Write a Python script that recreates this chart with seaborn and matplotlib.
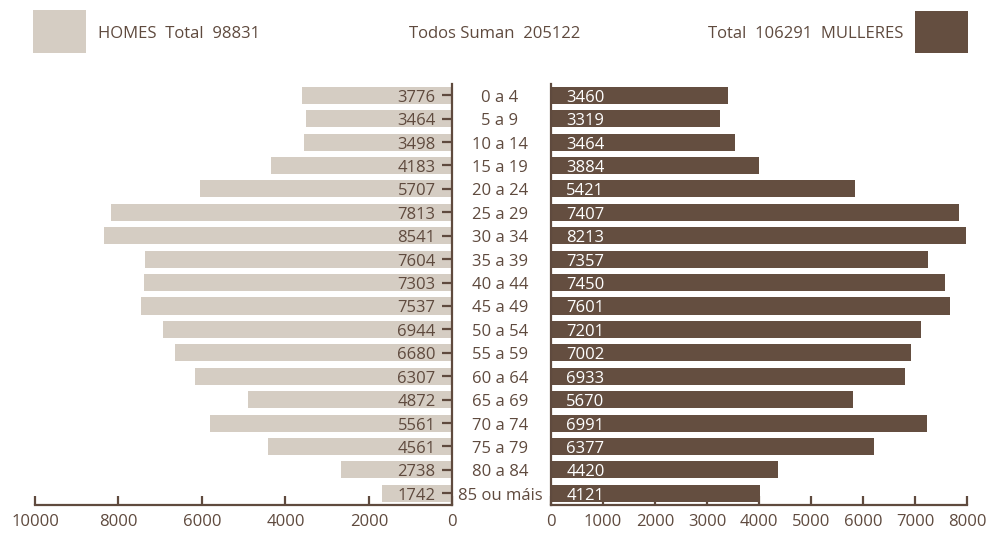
import matplotlib
matplotlib.use("Agg")
import matplotlib.pyplot as plt
import matplotlib.transforms as mtransforms
from matplotlib.patches import Rectangle
import seaborn as sns
import pandas as pd

# ---- data ----
ages = ["0 a 4", "5 a 9", "10 a 14", "15 a 19", "20 a 24", "25 a 29", "30 a 34",
        "35 a 39", "40 a 44", "45 a 49", "50 a 54", "55 a 59", "60 a 64",
        "65 a 69", "70 a 74", "75 a 79", "80 a 84", "85 ou máis"]
male_bar = [3590, 3500, 3545, 4340, 6040, 8180, 8345, 7360, 7385, 7455,
            6930, 6640, 6160, 4890, 5800, 4410, 2660, 1675]
female_bar = [3400, 3255, 3535, 4000, 5845, 7840, 7980, 7255, 7580, 7675,
              7120, 6925, 6805, 5815, 7235, 6215, 4365, 4020]
male_labels = [3776, 3464, 3498, 4183, 5707, 7813, 8541, 7604, 7303, 7537,
               6944, 6680, 6307, 4872, 5561, 4561, 2738, 1742]
female_labels = [3460, 3319, 3464, 3884, 5421, 7407, 8213, 7357, 7450, 7601,
                 7201, 7002, 6933, 5670, 6991, 6377, 4420, 4121]
header_left = "HOMES  Total  98831"
header_mid = "Todos Suman  205122"
header_right = "Total  106291  MULLERES"
left_ticks = [10000, 8000, 6000, 4000, 2000, 0]
right_ticks = [0, 1000, 2000, 3000, 4000, 5000, 6000, 7000, 8000]

# ---- style ----
LIGHT = "#d5cdc3"
DARK = "#644e40"
TXT = "#5f4a3e"

sns.set_style("ticks")
plt.rcParams["font.family"] = ["Open Sans", "DejaVu Sans"]
plt.rcParams["font.size"] = 12
plt.rcParams["ytick.left"] = False
plt.rcParams["ytick.right"] = True
plt.rcParams["ytick.direction"] = "in"
plt.rcParams["ytick.major.size"] = 7.2
plt.rcParams["ytick.major.width"] = 1.6
plt.rcParams["ytick.color"] = TXT

df = pd.DataFrame({"age": ages, "male": male_bar, "female": female_bar})

W, H = 994, 535
fig = plt.figure(figsize=(W / 100, H / 100), dpi=100)

def fx(px):
    return px / W

def fy(py):
    return (H - py) / H

ax_top, ax_bot = 84, 505
axL = fig.add_axes([fx(35), fy(ax_bot), fx(452.3) - fx(35), fy(ax_top) - fy(ax_bot)])
axR = fig.add_axes([fx(551), fy(ax_bot), fx(967) - fx(551), fy(ax_top) - fy(ax_bot)])

sns.barplot(data=df, y="age", x="male", orient="h", color=LIGHT, width=0.73,
            linewidth=0, saturation=1, ax=axL, zorder=1)
sns.barplot(data=df, y="age", x="female", orient="h", color=DARK, width=0.73,
            linewidth=0, saturation=1, ax=axR, zorder=1)

n = len(ages)
for ax in (axL, axR):
    ax.set_ylim(n - 0.5, -0.48)
    ax.set_xlabel("")
    ax.set_ylabel("")
    ax.set_facecolor("none")
    for s in ax.spines.values():
        s.set_color(TXT)
        s.set_linewidth(1.6)
    ax.spines["top"].set_visible(False)
    ax.tick_params(axis="x", bottom=True, top=False, direction="in", length=6.5,
                   width=1.6, color=TXT, labelcolor=TXT, labelsize=12, pad=6.5)

# left axis (men)
axL.set_xlim(10000, 0)
axL.set_xticks(left_ticks)
axL.set_xticklabels([str(t) for t in left_ticks])
axL.spines["left"].set_visible(False)
axL.set_yticks(range(n))
axL.set_yticklabels([""] * n)
axL.tick_params(axis="y", which="major", left=False, right=True, labelleft=False,
                labelright=False, direction="in", length=7.2, width=1.6,
                color=TXT)
for t in axL.yaxis.get_major_ticks():
    t.tick1line.set_visible(False)
    t.tick2line.set_visible(True)
    t.tick2line.set_markersize(7.2)
    t.tick2line.set_markeredgewidth(1.6)
    t.tick2line.set_color(TXT)
    t.tick2line.set_zorder(5)
axL.yaxis.set_zorder(5)

DY = -1.8  # points: small downward shift so text sits centred on bars
for i, v in enumerate(male_labels):
    axL.annotate(str(v), xy=(0, i), xycoords="data", xytext=(-12, DY),
                 textcoords="offset points", ha="right", va="center",
                 color=TXT, fontsize=12)

# right axis (women)
axR.set_xlim(0, 8000)
axR.set_xticks(right_ticks)
axR.set_xticklabels([str(t) for t in right_ticks])
axR.spines["right"].set_visible(False)
axR.set_yticks([])
for i, v in enumerate(female_labels):
    axR.annotate(str(v), xy=(0, i), xycoords="data", xytext=(11, DY),
                 textcoords="offset points", ha="left", va="center",
                 color="white", fontsize=12)

# age group labels between the two panels
tr = mtransforms.blended_transform_factory(fig.transFigure, axL.transData)
tr = tr + mtransforms.ScaledTranslation(0, DY / 72, fig.dpi_scale_trans)
for i, a in enumerate(ages):
    fig.text(fx(500), i, a, transform=tr, ha="center", va="center",
             color=TXT, fontsize=12)

# header
fig.patches.append(Rectangle((fx(32.7), fy(52.7)), fx(85.7) - fx(32.7),
                             fy(10) - fy(52.7), transform=fig.transFigure,
                             facecolor=LIGHT, edgecolor="none"))
fig.patches.append(Rectangle((fx(915), fy(53.3)), fx(967.7) - fx(915),
                             fy(11) - fy(53.3), transform=fig.transFigure,
                             facecolor=DARK, edgecolor="none"))
fig.text(fx(97.5), fy(34.5), header_left, ha="left", va="center", color=TXT, fontsize=12)
fig.text(fx(495), fy(34.5), header_mid, ha="center", va="center", color=TXT, fontsize=12)
fig.text(fx(903), fy(34.5), header_right, ha="right", va="center", color=TXT, fontsize=12)

fig.savefig("out.png", dpi=100, facecolor="white")
